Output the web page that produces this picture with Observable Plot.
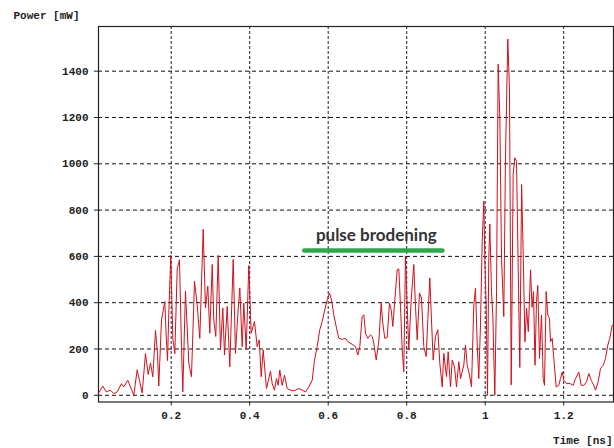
<!DOCTYPE html>
<html>
<head>
<meta charset="utf-8">
<script src="https://cdn.jsdelivr.net/npm/d3@7"></script>
<script src="https://cdn.jsdelivr.net/npm/@observablehq/plot@0.6"></script>
<style>
  html, body { margin: 0; padding: 0; background: #fff; }
  #chart svg { display: block; }
</style>
</head>
<body>
<div id="chart"></div>
<script>
// Time [ns] and power [mW] samples (same order)
const time = [
  0.0140,0.0257,0.0344,0.0454,0.0538,0.0624,0.0734,0.0792,0.0894,0.0963,
  0.1047,0.1134,0.1200,0.1261,0.1345,0.1414,0.1473,0.1531,0.1600,0.1651,
  0.1684,0.1753,0.1796,0.1837,0.1873,0.1906,0.1939,0.1990,0.2041,0.2092,
  0.2153,0.2211,0.2262,0.2296,
  0.2364,0.2449,0.2517,0.2594,0.2662,0.2729,0.2815,0.2874,0.2933,0.2983,
  0.3045,0.3085,0.3136,0.3198,0.3256,0.3315,0.3358,0.3427,0.3493,0.3580,
  0.3638,0.3697,0.3748,0.3809,0.3850,0.3911,0.3977,0.4038,0.4122,0.4191,
  0.4242,0.4293,0.4344,0.4428,0.4530,0.4573,0.4632,0.4683,0.4726,0.4767,
  0.4828,0.4887,0.4955,0.5040,0.5124,0.5251,0.5338,0.5422,0.5506,0.5593,
  0.5651,0.5720,0.5786,0.5847,0.5914,0.5975,0.6033,0.6084,0.6143,0.6212,
  0.6270,0.6357,0.6441,0.6499,0.6611,0.6696,0.6754,0.6805,0.6866,0.6907,
  0.6951,0.7009,0.7078,0.7121,0.7162,0.7223,0.7289,0.7351,0.7391,0.7442,
  0.7503,0.7562,0.7605,0.7646,0.7715,0.7758,0.7799,0.7842,0.7886,0.7926,
  0.7969,0.8013,0.8054,0.8115,0.8181,0.8224,0.8268,0.8326,0.8377,0.8436,
  0.8497,0.8538,0.8589,0.8632,0.8675,0.8734,0.8793,0.8844,0.8905,0.8945,
  0.9014,0.9057,0.9116,0.9160,0.9218,0.9269,0.9328,0.9371,0.9455,0.9498,
  0.9542,0.9600,0.9651,0.9710,0.9753,0.9797,0.9837,0.9880,0.9924,0.9965,
  0.9990,1.0025,1.0059,1.0092,1.0118,1.0161,1.0194,1.0245,1.0289,1.0331,
  1.0373,1.0416,1.0474,1.0517,1.0576,1.0619,1.0663,1.0713,1.0754,1.0798,
  1.0841,1.0882,1.0928,1.0971,1.1012,1.1055,1.1098,1.1156,
  1.1193,1.1231,1.1269,1.1307,1.1340,1.1384,1.1435,1.1478,1.1511,1.1554,
  1.1595,1.1638,1.1664,1.1707,1.1748,1.1809,1.1875,1.1918,1.1962,1.2003,
  1.2071,1.2156,1.2242,1.2301,1.2385,1.2446,1.2512,1.2581,1.2640,1.2701,
  1.2767,1.2811,1.2879,1.2938,1.3007,1.3065,1.3124,1.3175,1.3236
];
const power = [
  7,40,15,22,7,15,50,36,65,36,
  0,110,58,10,180,90,140,80,280,180,
  40,325,365,405,255,150,355,605,245,180,
  545,585,210,15,
  450,138,80,493,391,246,717,377,471,268,
  565,326,254,604,196,377,174,384,123,587,
  181,348,464,210,398,196,560,268,319,210,
  239,80,196,29,105,51,22,72,43,109,
  43,87,29,22,19,29,22,14,36,65,
  152,210,283,319,369,413,442,413,348,290,
  246,242,246,232,220,210,174,210,341,348,
  268,246,261,254,225,152,232,398,312,246,
  250,398,370,297,449,543,546,384,196,101,
  601,384,196,413,565,384,239,442,420,210,
  167,326,507,326,152,254,283,138,36,181,
  80,188,36,152,123,36,145,72,130,217,
  130,87,36,390,462,217,72,303,665,838,
  592,390,0,592,740,448,347,0,448,1430,
  1199,592,340,1026,1539,1315,45,954,1026,1011,
  549,120,910,592,231,376,275,542,
  380,448,130,405,474,159,347,72,43,448,
  347,332,231,246,159,36,43,72,101,65,
  51,51,43,72,101,43,43,58,94,65,
  43,22,58,116,130,159,217,246,303
];

// Axis ticks
const xTicks = [0.2, 0.4, 0.6, 0.8, 1.0, 1.2];
const xTickLabels = ["0.2", "0.4", "0.6", "0.8", "1", "1.2"];
const yTicks = [0, 200, 400, 600, 800, 1000, 1200, 1400];
const yTickLabels = ["0", "200", "400", "600", "800", "1000", "1200", "1400"];

// Annotation values
const annotationText = ["pulse brodening"];
const annotationPos = [0.7226, 690];     // [ns, mW]
const barTimes = [0.539, 0.891];         // [ns]
const barLevel = [625, 625];             // [mW]

const data = time.map((t, i) => ({t, p: power[i]}));
const bar = barTimes.map((t, i) => ({t, p: barLevel[i]}));

const chart = Plot.plot({
  width: 614,
  height: 448,
  marginLeft: 98,
  marginRight: 1,
  marginTop: 26,
  marginBottom: 46.5,
  style: {
    fontFamily: "'Liberation Mono', 'DejaVu Sans Mono', monospace",
    fontSize: "11px",
    fontWeight: "bold",
    color: "#222",
    background: "#fff",
    overflow: "visible"
  },
  x: {
    domain: [0.0148, 1.3269],
    ticks: xTicks,
    tickFormat: d => xTickLabels[xTicks.indexOf(d)],
    tickSize: 4,
    tickPadding: 5,
    label: null
  },
  y: {
    domain: [-29, 1593],
    ticks: yTicks,
    tickFormat: d => yTickLabels[yTicks.indexOf(d)],
    tickSize: 4,
    tickPadding: 6,
    label: null
  },
  marks: [
    Plot.ruleX(xTicks, {stroke: "#1c1c3c", strokeWidth: 1, strokeDasharray: "3,2"}),
    Plot.ruleY(yTicks, {stroke: "#111", strokeWidth: 1, strokeDasharray: "4,3"}),
    Plot.frame({stroke: "#222", strokeWidth: 1.2}),
    Plot.line(data, {x: "t", y: "p", stroke: "#d0101c", strokeWidth: 1}),
    Plot.line(bar, {x: "t", y: "p", stroke: "#2ea84e", strokeWidth: 4.5, strokeLinecap: "round"}),
    Plot.text(annotationText, {
      x: () => annotationPos[0], y: () => annotationPos[1],
      text: d => d,
      fontFamily: "Lato, 'Open Sans', sans-serif",
      fontWeight: "bold",
      fontSize: 17,
      fill: "#333",
      textAnchor: "middle",
      lineAnchor: "middle"
    }),
    Plot.text(["Power [mW]"], {
      frameAnchor: "top-left", text: d => d,
      dx: -85, dy: -11, textAnchor: "start", lineAnchor: "middle",
      fill: "#222"
    }),
    Plot.text(["Time [ns]"], {
      frameAnchor: "bottom-right", text: d => d,
      dx: -1, dy: 38.5, textAnchor: "end", lineAnchor: "middle",
      fill: "#222"
    })
  ]
});
document.getElementById("chart").appendChild(chart);
</script>
</body>
</html>
